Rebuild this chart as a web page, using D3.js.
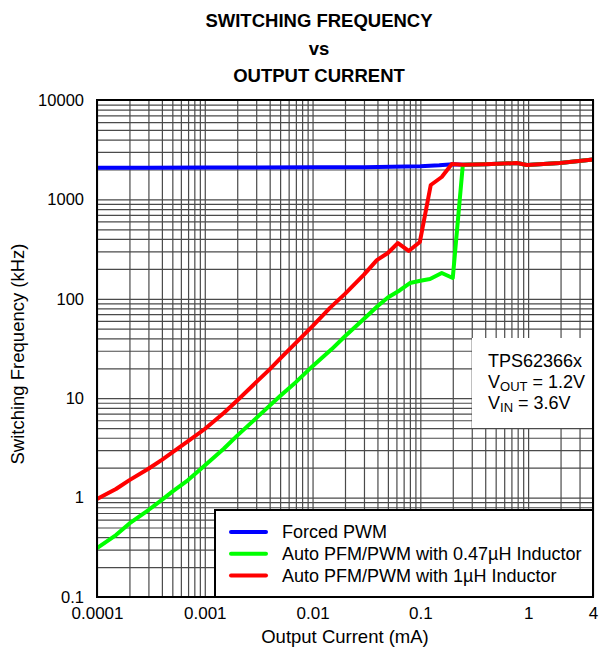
<!DOCTYPE html>
<html>
<head>
<meta charset="utf-8">
<script src="https://cdn.jsdelivr.net/npm/d3@7/dist/d3.min.js"></script>
<style>
  html, body { margin: 0; padding: 0; background: #fff; }
  svg { display: block; font-family: Arial, "Liberation Sans", sans-serif; }
</style>
</head>
<body>
<svg id="chart" width="600" height="648"></svg>
<script>
// ---- data ----
const titleLines = ["SWITCHING FREQUENCY", "vs", "OUTPUT CURRENT"];
const xTickValues = [0.0001, 0.001, 0.01, 0.1, 1, 4];
const xTickLabels = ["0.0001", "0.001", "0.01", "0.1", "1", "4"];
const yTickValues = [0.1, 1, 10, 100, 1000, 10000];
const yTickLabels = ["0.1", "1", "10", "100", "1000", "10000"];
const seriesNames = ["Forced PWM", "Auto PFM/PWM with 0.47\u00b5H Inductor", "Auto PFM/PWM with 1\u00b5H Inductor"];
const seriesColors = ["#0000ff", "#00ff00", "#ff0000"];

const forcedPwmI = [0.0001, 0.0003, 0.001, 0.003, 0.01, 0.03, 0.1, 0.15, 0.2, 0.25, 0.4, 0.787, 0.975, 1.97, 4.0];
const forcedPwmF = [2080, 2080, 2090, 2090, 2100, 2110, 2160, 2200, 2260, 2230, 2260, 2320, 2220, 2320, 2520];

const pfm047I = [0.0001, 0.00015, 0.0002, 0.0003, 0.0004, 0.0005, 0.0007, 0.001, 0.0015, 0.002, 0.003, 0.005, 0.007, 0.01, 0.015, 0.02, 0.0306, 0.04, 0.05, 0.0647, 0.08, 0.1, 0.123, 0.158, 0.2, 0.248, 0.4, 0.787, 0.975, 1.97, 4.0];
const pfm047F = [0.31, 0.42, 0.55, 0.75, 0.95, 1.15, 1.5, 2.1, 3.1, 4.2, 6.3, 10.5, 14.5, 21, 31, 42, 64, 84, 103, 122, 144, 152, 158, 182, 162, 2230, 2260, 2320, 2220, 2320, 2520];

const pfm1I = [0.0001, 0.00015, 0.0002, 0.0003, 0.0004, 0.0005, 0.0007, 0.001, 0.0015, 0.002, 0.003, 0.004, 0.005, 0.007, 0.01, 0.0145, 0.02, 0.03, 0.0395, 0.05, 0.062, 0.078, 0.099, 0.125, 0.158, 0.196, 0.25, 0.4, 0.787, 0.975, 1.97, 4.0];
const pfm1F = [0.97, 1.22, 1.5, 1.95, 2.4, 2.85, 3.7, 4.9, 7.1, 9.5, 14.5, 19.5, 25, 36, 53, 81, 112, 175, 245, 289, 364, 303, 373, 1396, 1680, 2270, 2230, 2260, 2320, 2220, 2320, 2520];

const annotationLine1 = "TPS62366x";
const annotationV1 = ["V", "OUT", " = 1.2V"];
const annotationV2 = ["V", "IN", " = 3.6V"];
const xAxisTitle = "Output Current (mA)";
const yAxisTitle = "Switching Frequency (kHz)";

// ---- layout ----
const svg = d3.select("#chart");
const L = 97, R = 593, T = 100, B = 597;

const x = d3.scaleLog().domain([1e-4, 4]).range([L, R]);
const y = d3.scaleLog().domain([0.1, 10000]).range([B, T]);

// grid values
const xGrid = [];
for (let e = -4; e <= 0; e++) for (let m = 1; m <= 9; m++) { const v = m * Math.pow(10, e); if (v <= 4.0001) xGrid.push(v); }
const yGrid = [];
for (let e = -1; e <= 4; e++) for (let m = 1; m <= 9; m++) { const v = m * Math.pow(10, e); if (v <= 10000.1) yGrid.push(v); }

// gridlines via axes
const gridColor = "#4a4a4a";
const gx = svg.append("g").attr("transform", `translate(0,${B})`)
  .call(d3.axisBottom(x).tickValues(xGrid).tickSize(-(B - T)).tickFormat(""));
gx.select(".domain").remove();
gx.selectAll(".tick line").attr("stroke", gridColor).attr("stroke-width", 1.2);

const gy = svg.append("g").attr("transform", `translate(${L},0)`)
  .call(d3.axisLeft(y).tickValues(yGrid).tickSize(-(R - L)).tickFormat(""));
gy.select(".domain").remove();
gy.selectAll(".tick line").attr("stroke", gridColor).attr("stroke-width", 1.2);

// annotation box (white, covering grid)
svg.append("rect").attr("x", 472).attr("y", 338).attr("width", R - 472).attr("height", 90).attr("fill", "#fff");

// data lines
const series = [
  { I: forcedPwmI, F: forcedPwmF },
  { I: pfm047I, F: pfm047F },
  { I: pfm1I, F: pfm1F }
];
const line = d3.line().x(d => x(d[0])).y(d => y(d[1]));
series.forEach((s, i) => {
  const pts = s.I.map((v, k) => [v, s.F[k]]);
  svg.append("path").datum(pts).attr("d", line)
    .attr("fill", "none").attr("stroke", seriesColors[i])
    .attr("stroke-width", 4).attr("stroke-linejoin", "round").attr("stroke-linecap", "butt");
});

// legend box
svg.append("rect").attr("x", 215).attr("y", 510).attr("width", R - 215).attr("height", B - 510)
  .attr("fill", "#fff").attr("stroke", "#000").attr("stroke-width", 2);
seriesNames.forEach((name, i) => {
  const ly = 532 + i * 21.8;
  svg.append("line").attr("x1", 231).attr("x2", 266).attr("y1", ly).attr("y2", ly)
    .attr("stroke", seriesColors[i]).attr("stroke-width", 4).attr("stroke-linecap", "round");
  svg.append("text").attr("x", 282).attr("y", ly + 6).attr("font-size", 18).attr("fill", "#000").text(name);
});

// frame
svg.append("rect").attr("x", L).attr("y", T).attr("width", R - L).attr("height", B - T)
  .attr("fill", "none").attr("stroke", "#000").attr("stroke-width", 2);

// axes labels
const ax = svg.append("g").attr("transform", `translate(0,${B})`)
  .call(d3.axisBottom(x).tickValues(xTickValues).tickSize(0).tickPadding(10)
    .tickFormat((d, i) => xTickLabels[i]));
ax.select(".domain").remove();
ax.selectAll("text").attr("font-size", 17).attr("font-family", "Arial, 'Liberation Sans', sans-serif").attr("fill", "#000");

const ay = svg.append("g").attr("transform", `translate(${L},0)`)
  .call(d3.axisLeft(y).tickValues(yTickValues).tickSize(0).tickPadding(13)
    .tickFormat((d, i) => yTickLabels[i]));
ay.select(".domain").remove();
ay.selectAll("text").attr("font-size", 16.5).attr("font-family", "Arial, 'Liberation Sans', sans-serif").attr("fill", "#000");

// axis titles
svg.append("text").attr("x", 345).attr("y", 643).attr("text-anchor", "middle")
  .attr("font-size", 18.5).text(xAxisTitle);
svg.append("text").attr("transform", "translate(24,354) rotate(-90)").attr("text-anchor", "middle")
  .attr("font-size", 18.5).text(yAxisTitle);

// title
const titleY = [27, 55, 82];
titleLines.forEach((t, i) => {
  svg.append("text").attr("x", 319).attr("y", titleY[i]).attr("text-anchor", "middle")
    .attr("font-size", 18.5).attr("font-weight", "bold").text(t);
});

// annotation text
svg.append("text").attr("x", 488).attr("y", 367).attr("font-size", 18).text(annotationLine1);
[annotationV1, annotationV2].forEach((parts, i) => {
  const t = svg.append("text").attr("x", 488).attr("y", 388 + i * 21).attr("font-size", 18);
  t.append("tspan").text(parts[0]);
  t.append("tspan").attr("font-size", 13).attr("dy", 3).text(parts[1]);
  t.append("tspan").attr("dy", -3).text(parts[2]);
});
</script>
</body>
</html>
